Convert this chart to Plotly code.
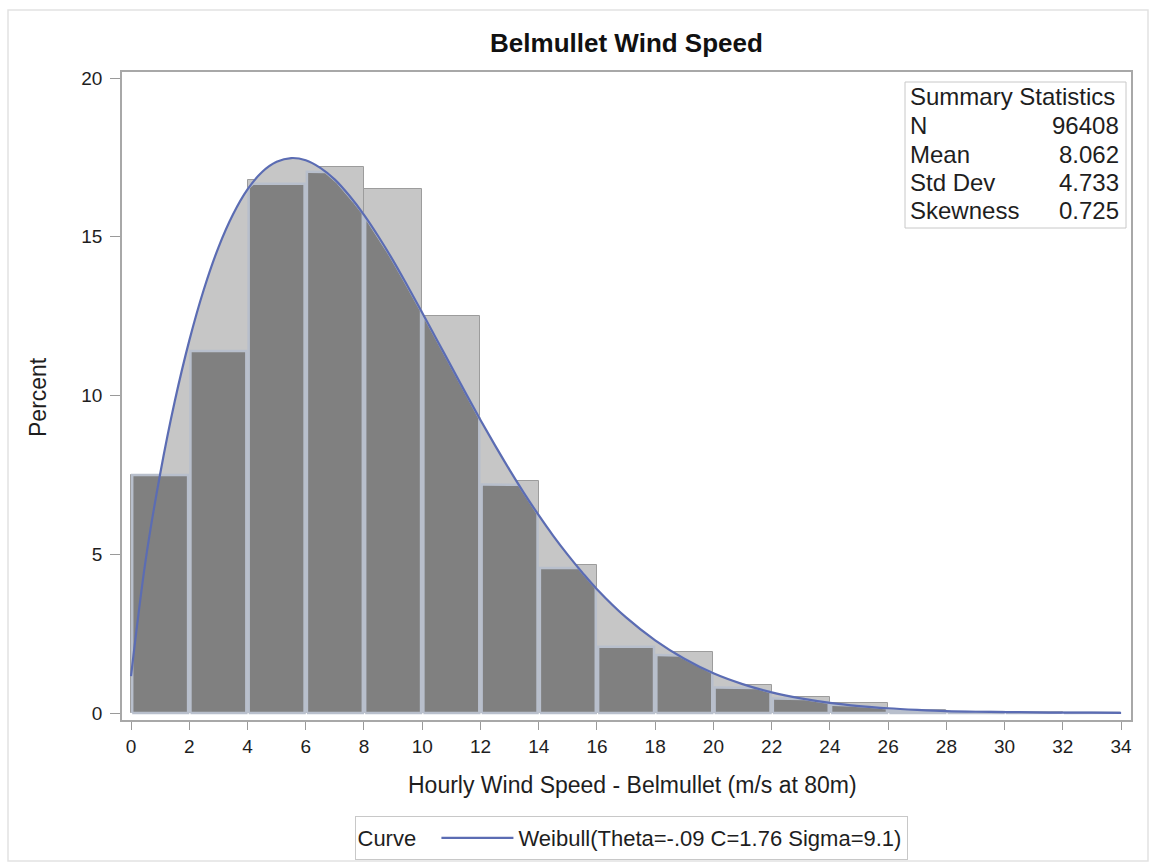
import numpy as np
import plotly.graph_objects as go

# ---------------- data ----------------
bin_edges = list(range(0, 36, 2))  # 0..34
# histogram (light) bar heights, percent
light_pct = [7.5, 11.4, 16.8, 17.2, 16.5, 12.5, 7.3, 4.65, 2.1, 1.92, 0.88, 0.52, 0.3, 0.1, 0.04, 0.02, 0.01]
# darker bar heights, percent
dark_pct = [7.5, 11.4, 16.67, 17.05, 16.5, 12.5, 7.2, 4.57, 2.09, 1.83, 0.8, 0.46, 0.26, 0.08, 0.03, 0.015, 0.008]
dark_follows_curve = [False] + [True] * 16

# fitted Weibull curve (percent)
curve_x = [0, 0.5, 1, 1.5, 2, 2.5, 3, 3.5, 4, 4.5, 5, 5.5, 6, 6.5, 7, 7.5, 8, 8.5, 9, 9.5,
           10, 10.5, 11, 11.5, 12, 12.5, 13, 13.5, 14, 14.5, 15, 15.5, 16,
           17, 18, 19, 20, 21, 22, 23, 24, 25, 26, 27, 28, 29, 30, 31, 32, 33, 34]
curve_y = [1.16, 4.80, 7.53, 9.81, 11.73, 13.34, 14.66, 15.70, 16.49, 17.04, 17.36, 17.48, 17.41,
           17.17, 16.80, 16.29, 15.69, 15.00, 14.25, 13.44, 12.61, 11.76, 10.91, 10.06, 9.23,
           8.43, 7.66, 6.92, 6.23, 5.58, 4.98, 4.42, 3.90,
           3.01, 2.29, 1.71, 1.25, 0.91, 0.65, 0.46, 0.32, 0.22, 0.15, 0.10, 0.06, 0.04, 0.03,
           0.02, 0.01, 0.01, 0.005]

curve_name = "Weibull(Theta=-.09 C=1.76 Sigma=9.1)"
stats_labels = ["N", "Mean", "Std Dev", "Skewness"]
stats_values = ["96408", "8.062", "4.733", "0.725"]
x_ticks = list(range(0, 36, 2))
y_ticks = [0, 5, 10, 15, 20]

# ---------------- styles ----------------
FONT = "Liberation Sans, Arial, sans-serif"
LIGHT = "#c6c6c6"
DARK = "#808080"
GAP = "#b8bfcc"
CURVE = "#5b6cb3"
TXT = "#1e1e1e"
FS = 23

fig = go.Figure()

# light area under the fitted curve
fig.add_trace(go.Scatter(x=curve_x, y=curve_y, mode="lines", line=dict(width=0, shape="spline"),
                         fill="tozeroy", fillcolor=LIGHT, hoverinfo="skip", showlegend=False))

# light histogram bars
centers = [(bin_edges[i] + bin_edges[i + 1]) / 2 for i in range(len(light_pct))]
fig.add_trace(go.Bar(x=centers, y=light_pct, width=2, marker=dict(color=LIGHT, line=dict(color="#9c9c9c", width=1)),
                     showlegend=False, hoverinfo="skip"))

# dark bars (clipped under the curve where it drops below them)
cx = np.array(curve_x, dtype=float)
cy = np.array(curve_y, dtype=float)
inset = 0.04
for i, h in enumerate(dark_pct):
    lo = bin_edges[i] + inset
    hi = bin_edges[i + 1] - inset
    xs = np.linspace(lo, hi, 40)
    if dark_follows_curve[i]:
        ys = np.minimum(h, np.interp(xs, cx, cy))
    else:
        ys = np.full_like(xs, h)
    px = [lo] + list(xs) + [hi, lo]
    py = [0] + list(ys) + [0, 0]
    fig.add_trace(go.Scatter(x=px, y=py, mode="lines", fill="toself", fillcolor=DARK,
                             line=dict(color=GAP, width=2.5), hoverinfo="skip", showlegend=False))

# fitted curve
fig.add_trace(go.Scatter(x=curve_x, y=curve_y, mode="lines", name=curve_name,
                         line=dict(color=CURVE, width=2.2, shape="spline"), showlegend=True))

# ---------------- layout ----------------
L, R, T, B = 122, 19, 72, 145
W, H = 1150, 865
pw, ph = W - L - R, H - T - B

def px_x(p):
    return (p - L) / pw

def px_y(p):
    return (H - B - p) / ph

annotations = []
shapes = []

# summary statistics inset
shapes.append(dict(type="rect", xref="paper", yref="paper", x0=px_x(905), x1=px_x(1126),
                   y0=px_y(228), y1=px_y(82), line=dict(color="#c8c8c8", width=1), fillcolor="white"))
annotations.append(dict(text="Summary Statistics", xref="paper", yref="paper", x=px_x(908), y=px_y(97),
                        xanchor="left", yanchor="middle", showarrow=False, font=dict(size=24, color=TXT, family=FONT)))
row_y = [125, 154, 182, 211]
for lab, val, yy in zip(stats_labels, stats_values, row_y):
    annotations.append(dict(text=lab, xref="paper", yref="paper", x=px_x(908), y=px_y(yy),
                            xanchor="left", yanchor="middle", showarrow=False,
                            font=dict(size=24, color=TXT, family=FONT)))
    annotations.append(dict(text=val, xref="paper", yref="paper", x=px_x(1121), y=px_y(yy),
                            xanchor="right", yanchor="middle", showarrow=False,
                            font=dict(size=24, color=TXT, family=FONT)))

# axis titles
annotations.append(dict(text="Percent", xref="paper", yref="paper", x=px_x(38), y=px_y(397),
                        textangle=-90, showarrow=False, xanchor="center", yanchor="middle",
                        font=dict(size=FS, color=TXT, family=FONT)))
annotations.append(dict(text="Hourly Wind Speed - Belmullet (m/s at 80m)", xref="paper", yref="paper",
                        x=px_x(632), y=px_y(785), showarrow=False, xanchor="center", yanchor="middle",
                        font=dict(size=FS, color=TXT, family=FONT)))

# outer frame
shapes.append(dict(type="rect", xref="paper", yref="paper", x0=px_x(8), x1=px_x(1148),
                   y0=px_y(861), y1=px_y(10), line=dict(color="#e2e2e2", width=1.5), layer="below"))

fig.update_layout(
    width=W, height=H,
    margin=dict(l=L, r=R, t=T, b=B, autoexpand=False),
    paper_bgcolor="white", plot_bgcolor="white",
    title=dict(text="<b>Belmullet Wind Speed</b>", x=0.5, xref="paper", y=1 - 43 / H, yanchor="middle",
               xanchor="center", font=dict(size=26, color="#111111", family=FONT)),
    bargap=0,
    showlegend=True,
    legend=dict(orientation="h", x=px_x(631), xanchor="center", y=px_y(816), yanchor="top",
                bordercolor="#c8c8c8", borderwidth=1, bgcolor="white",
                font=dict(size=FS - 1, color=TXT, family=FONT), itemwidth=72,
                title=dict(text="Curve  ", side="left", font=dict(size=FS - 1, color=TXT, family=FONT))),
    xaxis=dict(range=[-0.31, 34.34], tickvals=x_ticks, ticktext=[str(v) for v in x_ticks],
               ticks="outside", ticklen=8, tickcolor="#9a9a9a", showline=True, linecolor="#a8a8a8",
               linewidth=1.5, mirror=True, showgrid=False, zeroline=False, ticklabelstandoff=0,
               tickfont=dict(size=19, color=TXT, family=FONT)),
    yaxis=dict(range=[-0.22, 20.19], tickvals=y_ticks, ticktext=[str(v) for v in y_ticks],
               ticks="outside", ticklen=10, tickcolor="#9a9a9a", showline=True, linecolor="#a8a8a8",
               linewidth=1.5, mirror=True, showgrid=False, zeroline=False, ticklabelstandoff=4,
               tickfont=dict(size=19, color=TXT, family=FONT)),
    annotations=annotations,
    shapes=shapes,
)

fig.write_html("out.html")
